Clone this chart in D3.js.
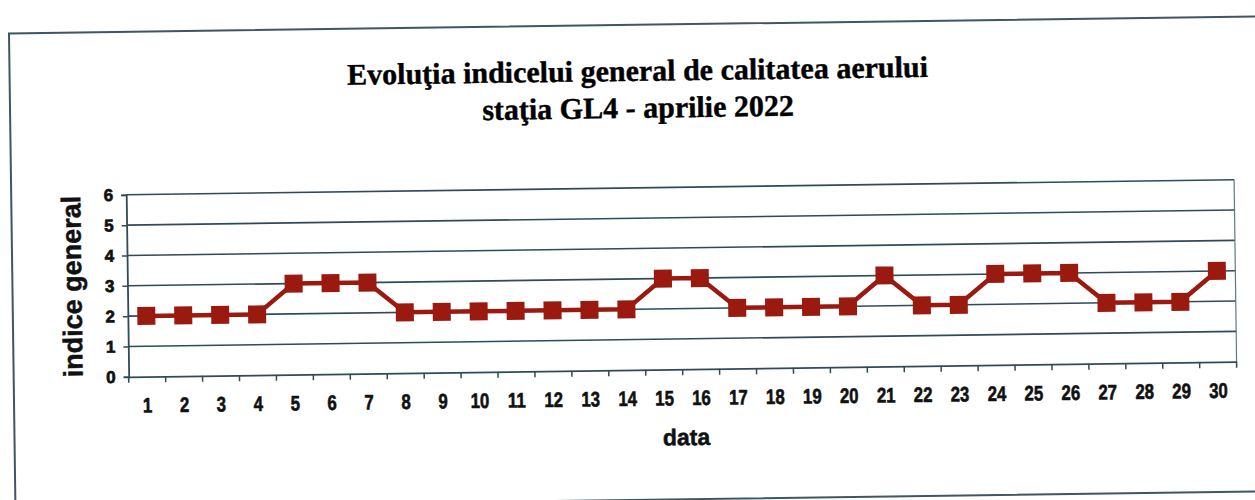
<!DOCTYPE html>
<html><head><meta charset="utf-8">
<script src="https://cdn.jsdelivr.net/npm/d3@7"></script>
<style>html,body{margin:0;padding:0;background:#fff;}svg{display:block;}</style>
</head><body>
<svg id="c" width="1255" height="500"></svg>
<script>
const days = d3.range(1, 31).map(String);
const values = [2,2,2,2,3,3,3,2,2,2,2,2,2,2,3,3,2,2,2,2,3,2,2,3,3,3,2,2,2,3];
const yTicks = [0,1,2,3,4,5,6];
const titleLines = ["Evoluţia indicelui general de calitatea aerului", "staţia GL4 - aprilie 2022"];
const xTitle = "data";
const yTitle = "indice general";

const svg = d3.select("#c");
const g = svg.append("g").attr("transform", "rotate(-0.78,627,250)");
const gridCol = "#2e4b58";
const red = "#9a1a10";
const sans = "Liberation Sans, Arial, sans-serif";

g.append("rect").attr("x", 12).attr("y", 25).attr("width", 1260).attr("height", 475)
  .attr("fill", "none").attr("stroke", "#3d5763").attr("stroke-width", 2);

const L = 127, R = 1235, T = 188, B = 370;
const x = d3.scaleBand().domain(days).range([L, R]);
const y = d3.scaleLinear().domain([0, 6]).range([B, T]);

// gridlines
g.append("g").selectAll("line").data(yTicks.slice(1)).join("line")
  .attr("x1", L).attr("x2", R).attr("y1", d => y(d)).attr("y2", d => y(d))
  .attr("stroke", gridCol).attr("stroke-width", 1.6);
g.append("line").attr("x1", R).attr("x2", R).attr("y1", T).attr("y2", B)
  .attr("stroke", "#5a7a88").attr("stroke-width", 1.2);

// y axis
const ya = g.append("g").attr("transform", `translate(${L},0)`)
  .call(d3.axisLeft(y).tickValues(yTicks).tickSize(5).tickPadding(8).tickFormat(d3.format("d")));
ya.select(".domain").attr("stroke", gridCol).attr("stroke-width", 1.8);
ya.selectAll(".tick line").attr("stroke", gridCol).attr("stroke-width", 1.5);
ya.selectAll("text").attr("font-family", sans)
  .attr("font-weight", "bold").attr("font-size", 17).attr("fill", "#111")
  .attr("stroke", "#111").attr("stroke-width", 0.7);

// x axis
const xa = g.append("g").attr("transform", `translate(0,${B})`)
  .call(d3.axisBottom(x).tickSize(0).tickPadding(21));
xa.select(".domain").attr("stroke", gridCol).attr("stroke-width", 1.8);
xa.selectAll("text").attr("font-family", sans)
  .attr("font-weight", "bold").attr("font-size", 21).attr("fill", "#111")
  .attr("stroke", "#111").attr("stroke-width", 0.6)
  .attr("transform", "scale(0.8,1)");
g.append("g").selectAll("line").data(d3.range(0, 31)).join("line")
  .attr("x1", d => L + d * x.step()).attr("x2", d => L + d * x.step())
  .attr("y1", B).attr("y2", B + 6).attr("stroke", gridCol).attr("stroke-width", 1.5);

// line + markers
const cx = (d, i) => x(days[i]) + x.bandwidth() / 2;
g.append("path").datum(values)
  .attr("d", d3.line().x(cx).y(d => y(d)))
  .attr("fill", "none").attr("stroke", red).attr("stroke-width", 4.5);
const ms = 18;
g.append("g").selectAll("rect").data(values).join("rect")
  .attr("x", (d, i) => cx(d, i) - ms / 2).attr("y", d => y(d) - ms / 2)
  .attr("width", ms).attr("height", ms).attr("fill", red);

// titles
g.append("g").selectAll("text").data(titleLines).join("text")
  .attr("x", 640).attr("y", (d, i) => 81 + i * 37)
  .attr("text-anchor", "middle").attr("font-family", "Liberation Serif, Times New Roman, serif")
  .attr("font-weight", "bold").attr("font-size", 30).attr("fill", "#000")
  .attr("stroke", "#000").attr("stroke-width", 0.4).text(d => d);

g.append("text").attr("x", 684).attr("y", 446).attr("text-anchor", "middle")
  .attr("font-family", sans).attr("font-weight", "bold")
  .attr("font-size", 23).attr("fill", "#111").attr("stroke", "#111").attr("stroke-width", 0.5)
  .text(xTitle);

g.append("text").attr("transform", `translate(81,${(T + B) / 2}) rotate(-90)`)
  .attr("text-anchor", "middle").attr("font-family", sans)
  .attr("font-weight", "bold").attr("font-size", 27).attr("fill", "#111")
  .attr("stroke", "#111").attr("stroke-width", 0.5).text(yTitle);
</script>
</body></html>
